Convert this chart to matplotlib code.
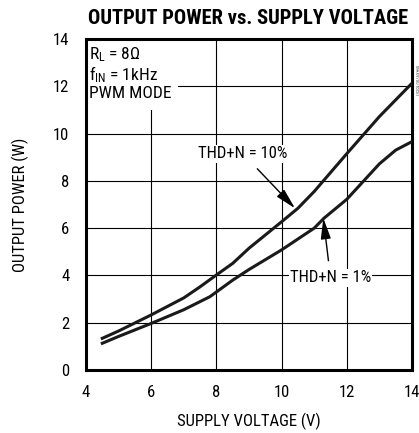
import matplotlib
matplotlib.use('Agg')
import matplotlib.pyplot as plt
from matplotlib import font_manager

names = {f.name for f in font_manager.fontManager.ttflist}


def pick(cands):
    for c in cands:
        if c in names:
            return c
    return 'DejaVu Sans'


body_font = pick(['Roboto Condensed', 'Archivo Narrow', 'PT Sans Narrow', 'Liberation Sans'])
title_font = pick(['Roboto Condensed', 'Oswald', 'Archivo Narrow', 'Liberation Sans'])
plt.rcParams['font.family'] = [body_font, 'DejaVu Sans']
plt.rcParams['mathtext.fontset'] = 'custom'
plt.rcParams['mathtext.rm'] = body_font

# data
vdd_10 = [4.5, 5.0, 6.0, 7.0, 7.5, 8.0, 8.5, 9.0, 10.0, 10.5, 11.0, 12.0, 13.0, 14.0]
pout_10 = [1.34, 1.65, 2.33, 3.05, 3.52, 4.02, 4.51, 5.15, 6.27, 6.84, 7.55, 9.15, 10.72, 12.13]
vdd_1 = [4.5, 5.0, 6.0, 7.0, 7.8, 8.5, 9.0, 10.0, 11.0, 11.3, 12.0, 13.0, 13.5, 14.0]
pout_1 = [1.13, 1.42, 1.97, 2.55, 3.10, 3.80, 4.25, 5.08, 6.00, 6.42, 7.22, 8.72, 9.30, 9.66]
xticks = [4, 6, 8, 10, 12, 14]
yticks = [0, 2, 4, 6, 8, 10, 12, 14]

fig = plt.figure(figsize=(4.19, 4.33), dpi=100)
ax = fig.add_axes([86/419, 1 - 370/433, 326/419, 331/433])
ax.set_xlim(4, 14)
ax.set_ylim(0, 14)
ax.set_xticks(xticks)
ax.set_yticks(yticks)
ax.grid(True, color='black', linewidth=0.8)
ax.tick_params(axis='x', length=0, labelsize=12, pad=11)
ax.tick_params(axis='y', length=0, labelsize=12, pad=12)
for s in ax.spines.values():
    s.set_linewidth(2.2)

ax.plot(vdd_10, pout_10, color='#1a1a1a', linewidth=2.2, zorder=3)
ax.plot(vdd_1, pout_1, color='#1a1a1a', linewidth=2.2, zorder=3)

ax.set_xlabel('SUPPLY VOLTAGE (V)', fontsize=12, labelpad=9)
ax.set_ylabel('OUTPUT POWER (W)', fontsize=12, labelpad=17)

# title: fit the width of the reference (87..409 px)
title = fig.text((87 + 409) / 2 / 419, 1 - 18/433, 'OUTPUT POWER vs. SUPPLY VOLTAGE',
                 ha='center', va='center', fontsize=15, fontweight='bold',
                 family=[title_font, 'DejaVu Sans'])
r = fig.canvas.get_renderer()
w = title.get_window_extent(r).width
title.set_fontsize(15 * 322 / w)

# condition box, covering the grid
ax.add_patch(plt.Rectangle((4.05, 11.0), 2.77, 2.95, facecolor='white',
                           edgecolor='none', zorder=2))
ax.text(4.1, 13.72, '$\\mathregular{R_L}$ = 8Ω\n$\\mathregular{f_{IN}}$ = 1kHz\nPWM MODE',
        ha='left', va='top', fontsize=12.5, linespacing=1.02, zorder=4)

bbox = dict(facecolor='white', edgecolor='none', pad=1)
arrow = dict(arrowstyle='-|>,head_length=0.9,head_width=0.22', color='black',
             lw=1.0, mutation_scale=14, shrinkA=6, shrinkB=0)
ax.annotate('THD+N = 10%', xy=(10.41, 6.84), xytext=(8.82, 9.14),
            ha='center', va='center', fontsize=12, bbox=bbox, zorder=5,
            arrowprops=arrow)
ax.annotate('THD+N = 1%', xy=(11.28, 6.42), xytext=(11.5, 3.9),
            ha='center', va='center', fontsize=12, bbox=bbox, zorder=5,
            arrowprops=arrow)

fig.text(416/419, 1 - 80/433, 'MAX9700 toc01', rotation=-90, fontsize=3.5,
         color='#555555', ha='center', va='center')

fig.savefig('out.png', dpi=100)
